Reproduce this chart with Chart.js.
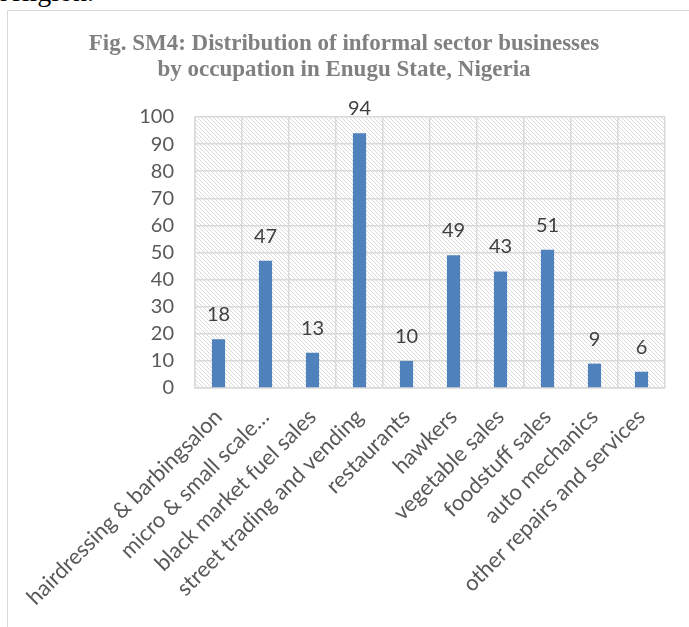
<!DOCTYPE html>
<html>
<head>
<meta charset="utf-8">
<script src="https://cdn.jsdelivr.net/npm/chart.js@4/dist/chart.umd.min.js"></script>
<style>
  html, body { margin: 0; padding: 0; background: #fff; overflow: hidden; }
  body { width: 689px; height: 627px; position: relative; }
  #prev { position: absolute; left: 0; top: -22px; font: 28px "Liberation Serif", serif; line-height: 1; color: #000; white-space: nowrap; }
  #frame { position: absolute; left: 7px; top: 10px; width: 800px; height: 700px; border: 1.5px solid #d9d9d9; box-sizing: border-box; }
  #wrap { position: absolute; left: 0; top: 0; width: 689px; height: 627px; }
</style>
</head>
<body>
<div id="prev">religion.</div>
<div id="frame"></div>
<div id="wrap"><canvas id="chart"></canvas></div>
<script>
const categories = [
  'hairdressing & barbingsalon',
  'micro & small scale\u2026',
  'black market fuel sales',
  'street trading and vending',
  'restaurants',
  'hawkers',
  'vegetable sales',
  'foodstuff sales',
  'auto mechanics',
  'other repairs and services'
];
const counts = [18, 47, 13, 94, 10, 49, 43, 51, 9, 6];
const titleLines = [
  'Fig. SM4: Distribution of informal sector businesses',
  'by occupation in Enugu State, Nigeria'
];
const yMin = 0, yMax = 100, yStep = 10;

// fine dotted hatch for the plot background
function makeHatch() {
  const c = document.createElement('canvas');
  c.width = 4; c.height = 4;
  const g = c.getContext('2d');
  g.fillStyle = '#fff';
  g.fillRect(0, 0, 4, 4);
  for (let y = 0; y < 4; y++) {
    for (let x = 0; x < 4; x++) {
      if ((x - y + 8) % 4 === 0) {
        g.fillStyle = '#dadada';
        g.fillRect(x, y, 1, 1);
      }
    }
  }
  return c;
}

const hatchPlugin = {
  id: 'hatch',
  beforeDraw(chart) {
    const { ctx, chartArea: a } = chart;
    ctx.save();
    ctx.fillStyle = ctx.createPattern(makeHatch(), 'repeat');
    ctx.fillRect(a.left, a.top, a.right - a.left, a.bottom - a.top);
    ctx.restore();
  }
};

const valueLabels = {
  id: 'valueLabels',
  afterDatasetsDraw(chart) {
    const { ctx } = chart;
    const meta = chart.getDatasetMeta(0);
    ctx.save();
    ctx.font = '20px Lato';
    ctx.fillStyle = '#404040';
    ctx.textAlign = 'center';
    ctx.textBaseline = 'alphabetic';
    meta.data.forEach((bar, i) => {
      ctx.fillText(String(counts[i]), bar.x, bar.y - 18);
    });
    ctx.restore();
  }
};

const ctx = document.getElementById('chart').getContext('2d');
new Chart(ctx, {
  type: 'bar',
  data: {
    labels: categories,
    datasets: [{
      data: counts,
      backgroundColor: '#4f81bd',
      barPercentage: 0.28,
      categoryPercentage: 1
    }]
  },
  options: {
    responsive: true,
    maintainAspectRatio: false,
    animation: false,
    layout: { padding: { top: 31, left: 23, right: 24, bottom: 0 } },
    plugins: {
      legend: { display: false },
      tooltip: { enabled: false },
      title: {
        display: true,
        text: titleLines,
        color: '#808080',
        font: { family: 'Liberation Serif', size: 23, weight: 'bold', lineHeight: 26 / 23 },
        padding: { top: 0, bottom: 34 }
      }
    },
    scales: {
      x: {
        grid: { color: '#d9d9d9', lineWidth: 1.5, drawTicks: false, offset: true },
        border: { color: '#d9d9d9', width: 1.5 },
        ticks: {
          color: '#595959',
          font: { family: 'Lato', size: 22 },
          minRotation: 45,
          maxRotation: 45,
          autoSkip: false,
          padding: 16
        },
        afterFit(scale) { scale.height = 239; }
      },
      y: {
        min: yMin,
        max: yMax,
        grid: { color: '#d9d9d9', lineWidth: 1.5, drawTicks: false },
        border: { color: '#d9d9d9', width: 1.5 },
        ticks: {
          stepSize: yStep,
          color: '#595959',
          font: { family: 'Lato', size: 20 },
          padding: 21
        },
        afterFit(scale) { scale.width = 172; }
      }
    }
  },
  plugins: [hatchPlugin, valueLabels]
});
</script>
</body>
</html>
